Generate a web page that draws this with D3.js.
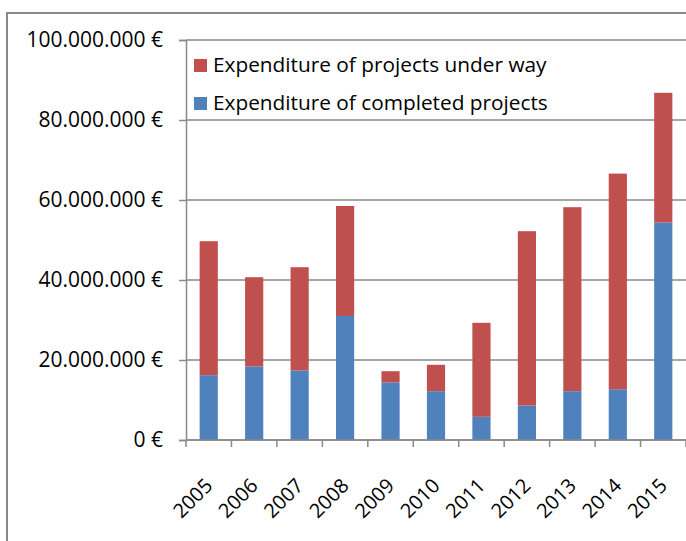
<!DOCTYPE html>
<html lang="en">
<head>
    <meta charset="UTF-8">
    <title>Expenditure of projects</title>
    <style>
        body { margin: 0; background: #fff; }
        svg { display: block; font-family: "Open Sans", sans-serif; }
    </style>
</head>
<body>
    <div id="graphic"></div>

    <script src="https://cdn.jsdelivr.net/npm/d3@7"></script>
    <script>
        var width = 686;
        var height = 541;

        // values, in millions of euro
        var years = ['2005', '2006', '2007', '2008', '2009', '2010', '2011', '2012', '2013', '2014', '2015'];
        var completed = [16.2, 18.4, 17.4, 31.0, 14.4, 12.2, 5.8, 8.6, 12.2, 12.7, 54.4];
        var underWay = [33.5, 22.3, 25.8, 27.5, 2.8, 6.6, 23.5, 43.6, 46.0, 53.9, 32.4];
        var yTicks = [0, 20e6, 40e6, 60e6, 80e6, 100e6];
        var seriesNames = ['Expenditure of projects under way', 'Expenditure of completed projects'];
        var seriesColors = ['#c0504d', '#4f81bd'];

        var rows = years.map(function(y, i) {
            return { year: y, completed: completed[i] * 1e6, underWay: underWay[i] * 1e6 };
        });

        var euro = d3.formatLocale({ decimal: ',', thousands: '.', grouping: [3], currency: ['', ' €'] });
        var fmt = euro.format('$,.0f');

        var svg = d3.select('#graphic')
            .append('svg')
            .attr('width', width)
            .attr('height', height);

        // chart area border
        svg.append('rect')
            .attr('x', 7).attr('y', 13)
            .attr('width', 700).attr('height', 560)
            .attr('fill', 'none')
            .attr('stroke', '#898989')
            .attr('stroke-width', 2);

        var x = d3.scaleBand().domain(years).range([186, 686]).paddingInner(0.6).paddingOuter(0.3);
        var y = d3.scaleLinear().domain([0, 100e6]).range([440, 40]);

        // gridlines
        svg.append('g')
            .selectAll('line')
            .data(yTicks)
            .join('line')
            .attr('x1', 186).attr('x2', 686)
            .attr('y1', function(d) { return y(d); })
            .attr('y2', function(d) { return y(d); })
            .attr('stroke', '#898989')
            .attr('stroke-width', 1.5);

        // stacked bars
        var stack = d3.stack().keys(['completed', 'underWay'])(rows);
        var colorOf = { completed: seriesColors[1], underWay: seriesColors[0] };

        svg.append('g')
            .selectAll('g')
            .data(stack)
            .join('g')
            .attr('fill', function(s) { return colorOf[s.key]; })
            .selectAll('rect')
            .data(function(s) { return s; })
            .join('rect')
            .attr('x', function(d) { return x(d.data.year); })
            .attr('width', x.bandwidth())
            .attr('y', function(d) { return y(d[1]); })
            .attr('height', function(d) { return y(d[0]) - y(d[1]); });

        // y axis
        var yAxis = svg.append('g')
            .attr('transform', 'translate(186,0)')
            .call(d3.axisLeft(y).tickValues(yTicks).tickFormat(fmt).tickSize(7).tickPadding(16));
        yAxis.select('.domain').attr('stroke', '#898989').attr('stroke-width', 1.5);
        yAxis.selectAll('.tick line').attr('stroke', '#898989').attr('stroke-width', 1.5);
        yAxis.selectAll('.tick text')
            .attr('font-size', 21)
            .attr('font-family', '"Open Sans", sans-serif')
            .attr('fill', '#000');

        // x axis: ticks between categories
        var step = x.step();
        var bounds = d3.range(years.length + 1).map(function(i) { return 186 + i * step; });
        svg.append('line')
            .attr('x1', 186).attr('x2', 686)
            .attr('y1', 440).attr('y2', 440)
            .attr('stroke', '#898989').attr('stroke-width', 1.5);
        svg.append('g')
            .selectAll('line')
            .data(bounds)
            .join('line')
            .attr('x1', function(d) { return d; })
            .attr('x2', function(d) { return d; })
            .attr('y1', 440).attr('y2', 447)
            .attr('stroke', '#898989').attr('stroke-width', 1.5);

        svg.append('g')
            .selectAll('text')
            .data(years)
            .join('text')
            .attr('transform', function(d) {
                return 'translate(' + (x(d) + x.bandwidth() / 2 + 5) + ',487) rotate(-45)';
            })
            .attr('text-anchor', 'end')
            .attr('font-size', 20)
            .attr('fill', '#000')
            .text(function(d) { return d; });

        // legend
        var legend = svg.append('g')
            .selectAll('g')
            .data(seriesNames)
            .join('g')
            .attr('transform', function(d, i) { return 'translate(194,' + (59 + i * 38) + ')'; });
        legend.append('rect')
            .attr('width', 13).attr('height', 13)
            .attr('fill', function(d, i) { return seriesColors[i]; });
        legend.append('text')
            .attr('x', 19).attr('y', 13)
            .attr('font-size', 20.8)
            .attr('fill', '#000')
            .text(function(d) { return d; });
    </script>
</body>
</html>
